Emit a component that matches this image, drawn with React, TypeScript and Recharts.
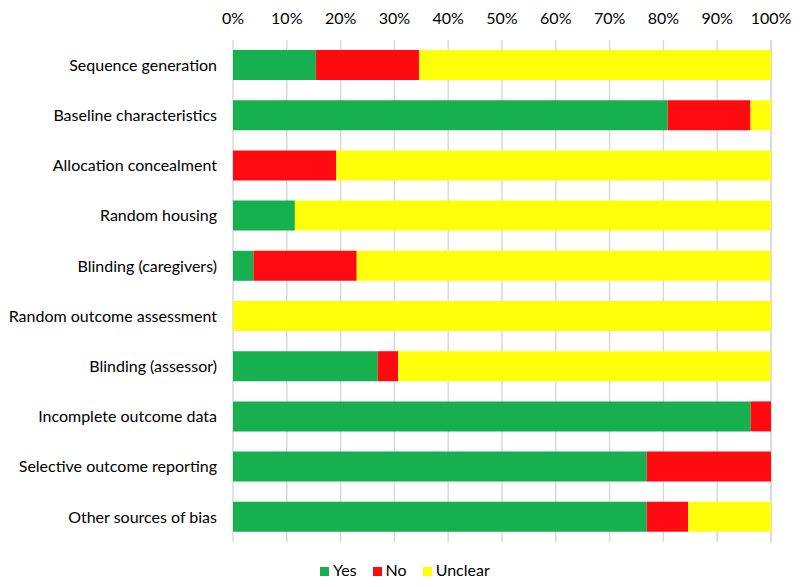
import { BarChart, Bar, XAxis, YAxis, CartesianGrid, Legend } from 'recharts';

const CATEGORIES = [
  'Sequence generation',
  'Baseline characteristics',
  'Allocation concealment',
  'Random housing',
  'Blinding (caregivers)',
  'Random outcome assessment',
  'Blinding (assessor)',
  'Incomplete outcome data',
  'Selective outcome reporting',
  'Other sources of bias',
];

// percent of studies
const YES = [15.4, 80.8, 0, 11.5, 3.8, 0, 26.9, 96.2, 76.9, 76.9];
const NO = [19.2, 15.4, 19.2, 0, 19.2, 0, 3.8, 3.8, 23.1, 7.7];
const UNCLEAR = [65.4, 3.8, 80.8, 88.5, 76.9, 100, 69.2, 0, 0, 15.4];

const X_TICKS = [0, 10, 20, 30, 40, 50, 60, 70, 80, 90, 100];
const ORDER = ['Yes', 'No', 'Unclear'];

const FONT = 'Lato, "Open Sans", sans-serif';

export default function App() {
  const data = CATEGORIES.map((name, i) => ({
    name,
    yes: YES[i],
    no: NO[i],
    unclear: UNCLEAR[i],
  }));

  return (
    <div style={{ fontFamily: FONT }}>
      <BarChart
        width={784}
        height={571}
        data={data}
        layout="vertical"
        margin={{ top: 0, right: 21, bottom: 18, left: 0 }}
      >
        <CartesianGrid horizontal={false} stroke="#d9d9d9" strokeWidth={1.5} />
        <XAxis
          type="number"
          orientation="top"
          domain={[0, 100]}
          ticks={X_TICKS}
          tickFormatter={(v) => `${v}%`}
          axisLine={false}
          tickLine={false}
          tickSize={0}
          tickMargin={16}
          height={32}
          tick={{ fill: '#000', fontSize: 16, fontFamily: FONT }}
        />
        <YAxis
          type="category"
          dataKey="name"
          width={225}
          axisLine={false}
          tickLine={false}
          tickSize={0}
          tickMargin={16}
          interval={0}
          tick={{ fill: '#000', fontSize: 16, fontFamily: FONT }}
        />
        <Legend
          verticalAlign="bottom"
          iconType="square"
          iconSize={9}
          itemSorter={(item: any) => ORDER.indexOf(item.value)}
          wrapperStyle={{ top: 552, left: 312, width: 'auto', fontSize: 16, color: '#000', fontFamily: FONT }}
          formatter={(value) => (
            <span style={{ color: '#000', paddingRight: value === 'Unclear' ? 0 : 6 }}>{value}</span>
          )}
        />
        <Bar dataKey="yes" name="Yes" stackId="a" fill="#16b04e" barSize={30} isAnimationActive={false} />
        <Bar dataKey="no" name="No" stackId="a" fill="#ff0a10" barSize={30} isAnimationActive={false} />
        <Bar dataKey="unclear" name="Unclear" stackId="a" fill="#ffff0a" barSize={30} isAnimationActive={false} />
      </BarChart>
    </div>
  );
}
